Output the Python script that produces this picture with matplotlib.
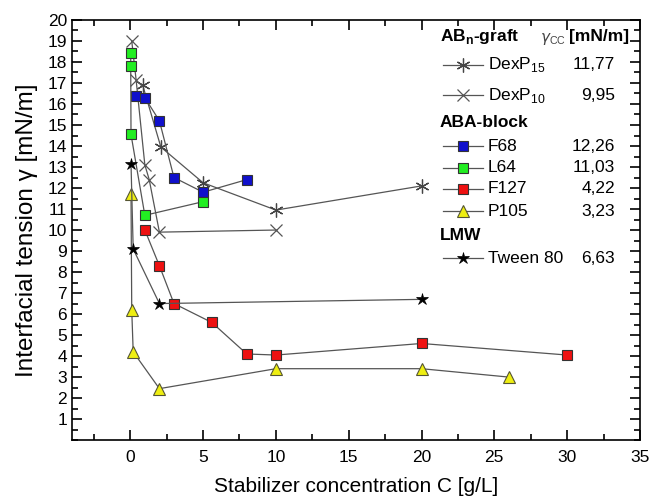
import numpy as np
import matplotlib.pyplot as plt
from matplotlib.ticker import MultipleLocator

plt.rcParams['font.family'] = ['Liberation Sans', 'DejaVu Sans']

# ==============================
# DATA
# ==============================

dexp15_c = [0.85, 2.1, 5.0, 10.0, 20.0]
dexp15_g = [16.9, 13.95, 12.25, 10.95, 12.1]

dexp10_c = [0.1, 0.4, 1.0, 1.3, 2.0, 10.0]
dexp10_g = [19.0, 17.15, 13.1, 12.4, 9.9, 10.0]

f68_c = [0.4, 1.0, 2.0, 3.0, 5.0, 8.0]
f68_g = [16.4, 16.3, 15.2, 12.5, 11.8, 12.4]

l64_c = [0.03, 0.03, 0.05, 1.0, 5.0]
l64_g = [18.45, 17.8, 14.55, 10.7, 11.35]

f127_c = [1.0, 2.0, 3.0, 5.6, 8.0, 10.0, 20.0, 30.0]
f127_g = [10.0, 8.3, 6.5, 5.6, 4.1, 4.05, 4.6, 4.05]

p105_c = [0.05, 0.1, 0.2, 2.0, 10.0, 20.0, 26.0]
p105_g = [11.7, 6.2, 4.2, 2.45, 3.4, 3.4, 3.0]

tween_c = [0.05, 0.2, 2.0, 20.0]
tween_g = [13.15, 9.1, 6.5, 6.7]

gamma_cc = ["11,77", "9,95", "12,26", "11,03", "4,22", "3,23", "6,63"]

# ==============================
# STYLES
# ==============================

line_kw = dict(color="#555555", lw=0.9)
sq = dict(marker="s", ms=6.5, mec="#333333", mew=0.8)

styles = {
    "DexP15": dict(marker=(6, 2, 0), ms=10, mec="#444444", mew=0.9),
    "DexP10": dict(marker="x", ms=9, mec="#555555", mew=0.9),
    "F68": dict(sq, mfc="#1010cc"),
    "L64": dict(sq, mfc="#22ee22"),
    "F127": dict(sq, mfc="#ee1111"),
    "P105": dict(marker="^", ms=8.5, mfc="#eeee11", mec="#555533", mew=0.8),
    "Tween": dict(marker="*", ms=9, mfc="black", mec="black", mew=0.5),
}

fig, ax = plt.subplots(figsize=(6.49, 4.99), dpi=100)
fig.subplots_adjust(left=0.111, right=0.986, top=0.96, bottom=0.118)

series = [
    ("DexP15", dexp15_c, dexp15_g),
    ("DexP10", dexp10_c, dexp10_g),
    ("F68", f68_c, f68_g),
    ("L64", l64_c, l64_g),
    ("F127", f127_c, f127_g),
    ("P105", p105_c, p105_g),
    ("Tween", tween_c, tween_g),
]
for name, c, g in series:
    ax.plot(c, g, **line_kw, **styles[name], zorder=3)

ax.set_xlim(-4, 35)
ax.set_ylim(0, 20)
ax.xaxis.set_major_locator(MultipleLocator(5))
ax.xaxis.set_minor_locator(MultipleLocator(2.5))
ax.yaxis.set_major_locator(MultipleLocator(1))
ax.yaxis.set_minor_locator(MultipleLocator(0.5))
ax.set_yticks(np.arange(1, 21))
ax.tick_params(which="both", direction="in", top=True, right=True,
               labelsize=12.5, width=1.2)
ax.tick_params(axis="x", pad=7)
ax.tick_params(which="major", length=7)
ax.tick_params(which="minor", length=4)
for s in ax.spines.values():
    s.set_linewidth(1.2)

ax.set_xlabel("Stabilizer concentration C [g/L]", fontsize=15, labelpad=9)
ax.set_ylabel("Interfacial tension \u03b3 [mN/m]", fontsize=17.5, labelpad=7)

# ==============================
# LEGEND (drawn in axes coords)
# ==============================

tr = ax.transAxes
hx0, hx1, mx = 0.653, 0.724, 0.688
lab_x, val_x = 0.732, 0.956
fs = 12.5
hfs = 12.5

ax.text(0.648, 0.960, "AB$_\\mathregular{n}$-graft", transform=tr, fontsize=hfs,
        fontweight="bold", va="center")
ax.text(0.824, 0.955, "$\\gamma_\\mathregular{CC}$", transform=tr, fontsize=11,
        va="center", color="#444444")
ax.text(0.875, 0.960, "[mN/m]", transform=tr, fontsize=hfs, fontweight="bold",
        va="center")
ax.text(0.648, 0.755, "ABA-block", transform=tr, fontsize=hfs,
        fontweight="bold", va="center")
ax.text(0.648, 0.488, "LMW", transform=tr, fontsize=hfs,
        fontweight="bold", va="center")

rows = [
    ("DexP15", "DexP$_\\mathregular{15}$", 0.893),
    ("DexP10", "DexP$_\\mathregular{10}$", 0.821),
    ("F68", "F68", 0.700),
    ("L64", "L64", 0.648),
    ("F127", "F127", 0.598),
    ("P105", "P105", 0.545),
    ("Tween", "Tween 80", 0.433),
]
for (name, label, y), val in zip(rows, gamma_cc):
    ax.plot([hx0, hx1], [y, y], transform=tr, **line_kw, clip_on=False)
    ax.plot([mx], [y], transform=tr, **styles[name], ls="none", clip_on=False)
    ax.text(lab_x, y, label, transform=tr, fontsize=fs, va="center")
    ax.text(val_x, y, val, transform=tr, fontsize=fs, va="center", ha="right")

plt.savefig("out.png", dpi=100)
